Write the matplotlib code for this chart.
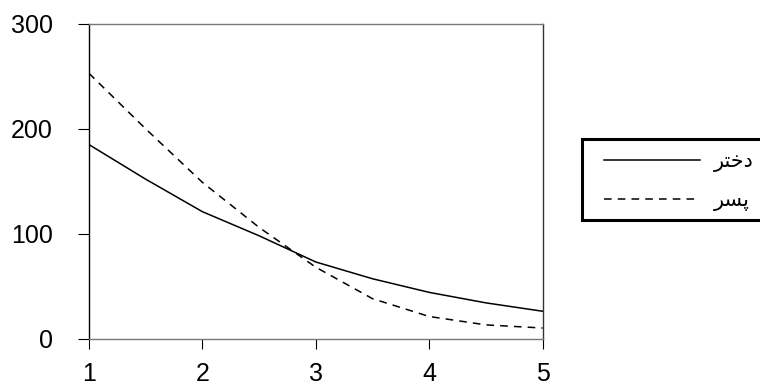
import matplotlib
matplotlib.use("Agg")
import matplotlib.pyplot as plt
from matplotlib.patches import Rectangle

# values at half steps
x_vals = [1, 1.5, 2, 2.5, 3, 3.5, 4, 4.5, 5]
girl_vals = [185, 152, 121, 98, 73, 57, 44, 34, 26]
boy_vals = [253, 200, 149, 106, 68, 38, 21, 13, 10]
series_names = ["دختر", "پسر"]
x_ticks = [1, 2, 3, 4, 5]
y_ticks = [0, 100, 200, 300]

# matplotlib does no arabic shaping, so map letters to presentation forms
# (isolated, final, initial, medial); None = letter does not join to the left
FORMS = {
    "د": ("\ufea9", "\ufeaa", None, None),
    "ر": ("\ufead", "\ufeae", None, None),
    "خ": ("\ufea5", "\ufea6", "\ufea7", "\ufea8"),
    "ت": ("\ufe95", "\ufe96", "\ufe97", "\ufe98"),
    "س": ("\ufeb1", "\ufeb2", "\ufeb3", "\ufeb4"),
    "پ": ("\ufb56", "\ufb57", "\ufb58", "\ufb59"),
}


def shape(word):
    out = []
    for i, ch in enumerate(word):
        iso, fin, ini, med = FORMS[ch]
        prev_joins = i > 0 and FORMS[word[i - 1]][2] is not None
        next_exists = i < len(word) - 1
        if prev_joins and next_exists and med:
            out.append(med)
        elif prev_joins:
            out.append(fin)
        elif next_exists and ini:
            out.append(ini)
        else:
            out.append(iso)
    return "".join(reversed(out))


plt.rcParams["font.family"] = ["Liberation Sans", "DejaVu Sans"]

fig = plt.figure(figsize=(7.6, 3.87), dpi=100)
ax = fig.add_axes([0.117, 0.1253, 0.597, 0.8127])

l1, = ax.plot(x_vals, girl_vals, color="black", lw=1.1)
l2, = ax.plot(x_vals, boy_vals, color="black", lw=1.1, linestyle=(0, (5, 4)))

ax.set_xlim(1, 5)
ax.set_ylim(0, 300)
ax.set_xticks(x_ticks)
ax.set_yticks(y_ticks)
ax.tick_params(axis="y", direction="out", length=8, pad=18, labelsize=18)
ax.tick_params(axis="x", direction="out", length=7, pad=10, labelsize=18)

ax.spines["left"].set_color("black")
ax.spines["right"].set_color("#333333")
ax.spines["top"].set_color("#777777")
ax.spines["bottom"].set_color("#777777")
for s in ax.spines.values():
    s.set_linewidth(1.0)

# legend frame runs off the right edge of the picture
fig.patches.append(Rectangle((582 / 760, 1 - 220 / 387), 0.3, 81 / 387,
                             transform=fig.transFigure, facecolor="white",
                             edgecolor="black", lw=2.2))
fig.legend([l1, l2], [shape(n) for n in series_names],
           loc="center left", bbox_to_anchor=(585 / 760, 1 - 181 / 387),
           frameon=False, handlelength=4.6, handletextpad=0.7,
           labelspacing=0.85, prop={"family": ["DejaVu Sans"], "size": 15})

fig.savefig("out.png", dpi=100)
